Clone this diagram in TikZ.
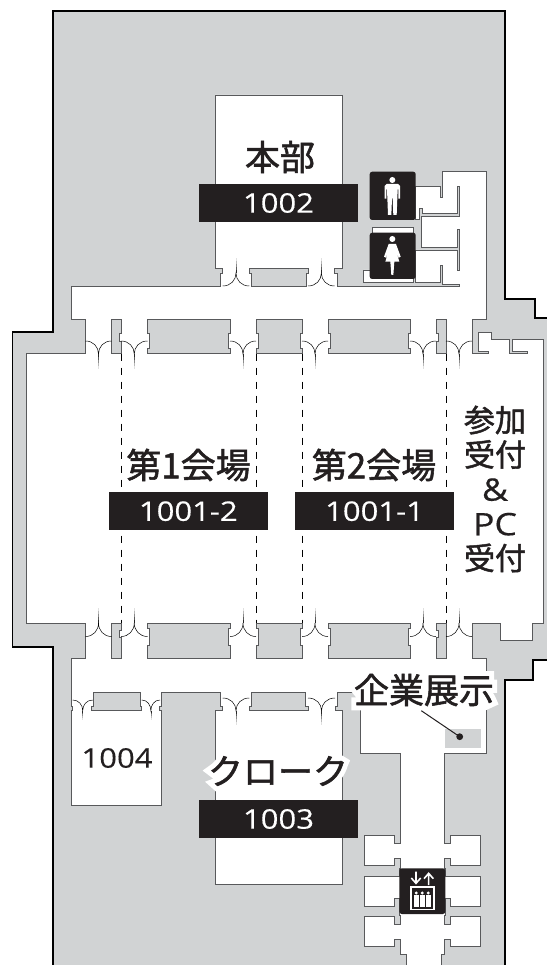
\documentclass[tikz,border=0pt]{standalone}
\usepackage{fontspec}
\setmainfont[FakeStretch=1.15,FakeBold=.35]{Open Sans}
\newfontfamily\jpfont[FakeBold=1.5]{Noto Sans CJK JP}
\newfontfamily\jpbold[FakeBold=30]{Noto Sans CJK JP}
\definecolor{wallgray}{HTML}{D1D3D4}
\definecolor{walldark}{HTML}{58595B}
\definecolor{inkblack}{HTML}{231F20}

\newcommand{\doorpair}[5]{
  \pgfmathsetmacro{\doormid}{(#1+#2)/2}
  \draw [doorline] (#1,#3) .. controls ({#1+.6*(\doormid-#1)},#3) and (\doormid,{#3+.45*(#4-#3)}) .. (\doormid,#4)
    .. controls (\doormid,{#3+.45*(#4-#3)}) and ({#2-.6*(#2-\doormid)},#3) .. (#2,#3);
  \foreach \fadestep/\fadeval in {0/85,1/65,2/45,3/28,4/12} {
    \draw [doorline,black!\fadeval] (\doormid,{#4+\fadestep*(#5-#4)/5}) -- (\doormid,{#4+(\fadestep+1)*(#5-#4)/5});
  }
}
\newcommand{\notchwall}[6]{
  \draw [blockwall] (#1,#3) -- (#2,#3) -- (#2,#5) -- ({#2-2},#5) -- ({#2-2},#6) -- (#2,#6) -- (#2,#4)
    -- (#1,#4) -- (#1,#6) -- ({#1+2},#6) -- ({#1+2},#5) -- (#1,#5) -- cycle;
}

\tikzset{
  outerwall/.style={draw=black,line width=1.2pt,fill=wallgray},
  roomwall/.style={draw=walldark,line width=.9pt,fill=white},
  blockwall/.style={draw=walldark,line width=.9pt,fill=wallgray},
  doorline/.style={draw=black,line width=.5pt},
  splitline/.style={draw=black,line width=.6pt,dash pattern=on 7pt off 7pt},
  roombar/.style={fill=inkblack,text=white,minimum width=159pt,minimum height=37.7pt,inner sep=0pt,font=\fontsize{27}{30}\selectfont},
  hallname/.style={text=inkblack,inner sep=0pt,font=\jpfont\fontsize{35}{40}\selectfont},
  halotext/.style={text=white,inner sep=0pt,font=\jpbold\fontsize{35}{40}\selectfont},
  signbox/.style={fill=inkblack,rounded corners=2.5pt},
  signfig/.style={fill=white,draw=none}
}

\begin{document}
\begin{tikzpicture}[x=1pt,y=-1pt]

  \useasboundingbox (0,0) rectangle (546,965);
  \fill [white] (0,0) rectangle (546,965);

  \path [outerwall] (53,11) -- (505,11) -- (505,299) -- (535,299) -- (535,318) -- (552,318) -- (552,660)
    -- (533,660) -- (533,680) -- (505,680) -- (505,972) -- (53,972) -- (53,647) -- (12.5,647) -- (12.5,332) -- (53,332) -- cycle;

  \path [roomwall] (71,286) -- (220,286) -- (220,273) -- (222.7,273) -- (222.7,268.3) -- (215,268.3) -- (215,95)
    -- (342,95) -- (342,268.3) -- (334.7,268.3) -- (334.7,273) -- (337.3,273) -- (337.3,286.7) -- (459.7,286.7)
    -- (459.7,284) -- (442.3,284) -- (442.3,265) -- (440.3,265) -- (440.3,282.7) -- (415.7,282.7) -- (415.7,250)
    -- (457.3,250) -- (457.3,270) -- (459.7,270) -- (459.7,229.3) -- (457.3,229.3) -- (457.3,247.3) -- (421.7,247.3)
    -- (421.7,216.7) -- (459.7,216.7) -- (459.7,186.7) -- (457.3,186.7) -- (457.3,213.3) -- (422.3,213.3)
    -- (422.3,208.3) -- (419.7,208.3) -- (419.7,219.3) -- (415.7,219.3) -- (415.7,186.7) -- (440.3,186.7)
    -- (440.3,197.3) -- (442.3,197.3) -- (442.3,171.7) -- (486.3,171.7) -- (486.3,319.5) -- (472,319.5) -- (472,353.5)
    -- (488,353.5) -- (488,351) -- (478,351) -- (478,332) -- (491,332) -- (491,339.5) -- (509,339.5) -- (509,353.5)
    -- (527,353.5) -- (527,351) -- (512,351) -- (512,339.5) -- (543,339.5) -- (543,623) -- (532,623) -- (532,640)
    -- (500,640) -- (500,623) -- (472,623) -- (472,658) -- (486,658) -- (486,753) -- (444,753) -- (444,843) -- (450,843)
    -- (450,835.7) -- (480.3,835.7) -- (480.3,865.7) -- (450,865.7) -- (450,858.3) -- (444,858.3) -- (444,868)
    -- (445,868) -- (445,876.7) -- (480.3,876.7) -- (480.3,906.7) -- (450,906.7) -- (450,898.3) -- (445,898.3)
    -- (445,915) -- (444,915) -- (444,924.3) -- (450,924.3) -- (450,916.7) -- (480.3,916.7) -- (480.3,946.7)
    -- (450,946.7) -- (450,939.3) -- (444,939.3) -- (444,954) -- (441.7,954) -- (441.7,972) -- (406,972) -- (406,954)
    -- (400.7,954) -- (400.7,939.3) -- (394.3,939.3) -- (394.3,946.7) -- (364.3,946.7) -- (364.3,916.7) -- (394.3,916.7)
    -- (394.3,924.3) -- (400.7,924.3) -- (400.7,915) -- (399.3,915) -- (399.3,898.3) -- (394.3,898.3) -- (394.3,906.7)
    -- (364.3,906.7) -- (364.3,876.7) -- (399.3,876.7) -- (399.3,868) -- (400.7,868) -- (400.7,858.3) -- (394.3,858.3)
    -- (394.3,865.7) -- (364.3,865.7) -- (364.3,835.7) -- (394.3,835.7) -- (394.3,843) -- (400.7,843) -- (400.7,753)
    -- (360,753) -- (360,692.7) -- (337.3,692.7) -- (337.3,706) -- (335,706) -- (335,710.7) -- (342,710.7) -- (342,884)
    -- (215.7,884) -- (215.7,710.7) -- (222.7,710.7) -- (222.7,706) -- (220.7,706) -- (220.7,692.7) -- (161.7,692.7)
    -- (161.7,706) -- (159.3,706) -- (159.3,710.7) -- (161.7,710.7) -- (161.7,805.7) -- (71,805.7) -- (71,710.7)
    -- (72.7,710.7) -- (72.7,706) -- (71,706) -- (71,658) -- (85.5,658) -- (85.5,623) -- (26,623) -- (26,353.5)
    -- (85.5,353.5) -- (85.5,319.5) -- (71,319.5) -- cycle;

  \path [roomwall] (372.3,233) -- (372.3,227.3) -- (413,227.3) -- (413,233);
  \path [roomwall] (369.7,270) -- (363.7,270) -- (363.7,282.7) -- (413,282.7) -- (413,279);

  \draw [blockwall] (111.5,319.5) -- (121,319.5) -- (121,333) -- (119,333) -- (119,341) -- (121,341) -- (121,353.5) -- (111.5,353.5) -- cycle;
  \draw [blockwall] (436,319.5) -- (446,319.5) -- (446,353.5) -- (436,353.5) -- (436,341) -- (438,341) -- (438,333) -- (436,333) -- cycle;
  \draw [blockwall] (111.5,623) -- (121,623) -- (121,630) -- (119,630) -- (119,637.5) -- (121,637.5) -- (121,658) -- (111.5,658) -- cycle;
  \draw [blockwall] (436,623) -- (446,623) -- (446,658) -- (436,658) -- (436,637.5) -- (438,637.5) -- (438,630) -- (436,630) -- cycle;
  \foreach \wallleft/\wallright in {147.5/230,256/302,328/410} {
    \notchwall{\wallleft}{\wallright}{319.5}{353.5}{333}{348}
    \notchwall{\wallleft}{\wallright}{623}{658}{628}{645}
  }

  \draw [blockwall] (249.3,268.3) -- (308,268.3) -- (308,273) -- (306,273) -- (306,286.7) -- (251.7,286.7) -- (251.7,273) -- (249.3,273) -- cycle;
  \draw [blockwall] (251.7,692.7) -- (305.7,692.7) -- (305.7,706) -- (308,706) -- (308,710.7) -- (249.3,710.7) -- (249.3,706) -- (251.7,706) -- cycle;
  \draw [blockwall] (93.3,692.7) -- (140,692.7) -- (140,706) -- (141.7,706) -- (141.7,710.7) -- (91.7,710.7) -- (91.7,706) -- (93.3,706) -- cycle;

  \foreach \doorleft/\doorright in {85.5/111.5,121/147.5,230/256,302/328,410/436,446/472} {
    \doorpair{\doorleft}{\doorright}{341}{354}{369}
    \doorpair{\doorleft}{\doorright}{636.5}{623}{608}
  }
  \doorpair{222.7}{249.3}{286}{273}{258}
  \doorpair{308}{334.7}{286}{273}{258}
  \doorpair{222.7}{249.3}{698}{710.7}{725}
  \doorpair{308}{335}{698}{710.7}{725}
  \doorpair{72.7}{92.7}{700}{710.7}{720}
  \doorpair{141.7}{160}{700}{710.7}{720}

  \foreach \splitx in {121,256,302,446} {
    \draw [splitline] (\splitx,353.5) -- (\splitx,623);
  }

  \fill [wallgray] (445,729) rectangle (481,747.7);

  \node [hallname] (honbu) at (280,157) {本部};
  \node [roombar] (room1002) at (278.5,203) {1002};
  \node [hallname] (hall1) at (188.5,465) {第1会場};
  \node [roombar] (room1001b) at (188.3,511.2) {1001-2};
  \node [hallname] (hall2) at (374,465) {第2会場};
  \node [roombar] (room1001a) at (374.5,511.2) {1001-1};
  \node [text=inkblack,inner sep=0pt,align=center,font=\jpfont\fontsize{31}{34.5}\selectfont] (reception) at (495,489)
    {参加\\受付\\{\rmfamily\fontsize{31}{34.5}\selectfont \&}\\{\rmfamily\fontsize{31}{34.5}\selectfont PC}\\受付};
  \node [text=inkblack,inner sep=0pt,font=\fontsize{27}{30}\selectfont] (room1004) at (117,758) {1004};

  \node [halotext] (cloakhalo) at (278,771) {クローク};
  \node [hallname] (cloak) at (278,771) {クローク};
  \node [roombar] (room1003) at (278.5,819) {1003};

  \node [halotext] (expohalo) at (424,690) {企業展示};
  \node [hallname] (expo) at (424,690) {企業展示};
  \coordinate (expospot) at (459.7,736.7);
  \draw [line width=1pt,inkblack] (421.3,710.7) -- (expospot);
  \fill [inkblack] (expospot) circle (3.4pt);

  \path [signbox] (369.7,171.7) rectangle (415.7,220);
  \path [signbox] (369.7,232.7) rectangle (415.7,279);
  \path [signbox] (399.3,868.3) rectangle (445.3,914);

  \begin{scope}[shift={(360,160)},x=1/3*1pt,y=-1/3*1pt]
    \fill [signfig] (97,60) circle (3pt);
    \fill [signfig] (80,72) -- (114,72) -- (120,78) -- (120,116) -- (115,116) -- (115,88) -- (113,88) -- (110,165)
      -- (100,165) -- (98,115) -- (96,115) -- (94,165) -- (84,165) -- (81,88) -- (79,88) -- (79,116) -- (74,116) -- (74,78) -- cycle;
    \fill [signfig] (97,237) circle (3pt);
    \fill [signfig] (86,252) -- (108,252) -- (122,290) -- (116,293) -- (108,272) -- (118,305) -- (103,305) -- (100,345)
      -- (94,345) -- (91,305) -- (76,305) -- (86,272) -- (78,293) -- (72,290) -- cycle;
  \end{scope}

  \begin{scope}[shift={(340,780)},x=1/3*1pt,y=-1/3*1pt]
    \draw [white,line width=1.6pt] (228,275) -- (228,310) (214,294) -- (228,310) -- (242,294);
    \draw [white,line width=1.6pt] (266,315) -- (266,280) (252,296) -- (266,280) -- (280,296);
    \draw [white,line width=1.2pt] (213,321) rectangle (282,388);
    \foreach \peoplex in {229,247,265} {
      \fill [signfig] (\peoplex,339) circle (1.6pt);
      \fill [signfig] ({\peoplex-7},345) rectangle ({\peoplex+7},380);
    }
  \end{scope}

\end{tikzpicture}
\end{document}
